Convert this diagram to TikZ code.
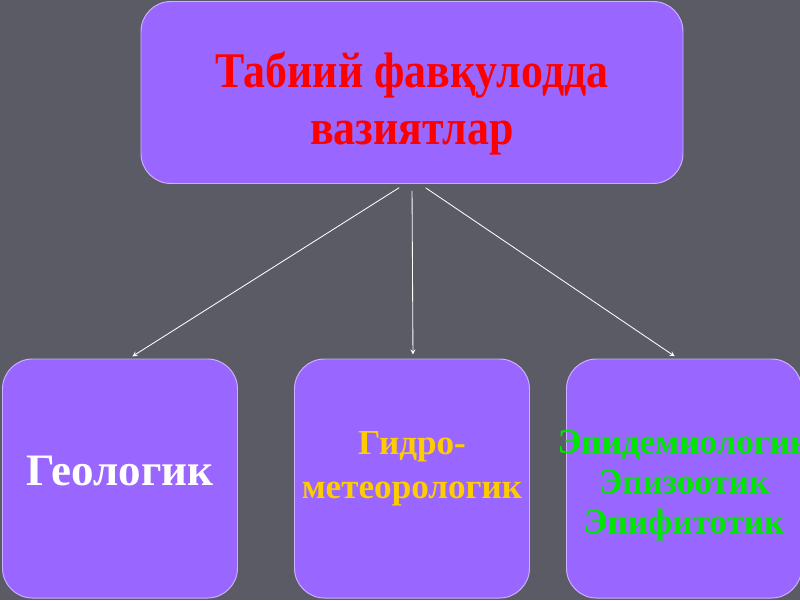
\documentclass[tikz,border=0pt]{standalone}
\usepackage{fontspec}
\setmainfont{Liberation Serif}
\newfontfamily\narrowfont[FakeStretch=0.88]{Liberation Serif}
\usepackage{tikz}
\usetikzlibrary{shapes.geometric, arrows}
\definecolor{slidebg}{RGB}{90,91,101}
\definecolor{boxfill}{RGB}{153,102,255}
\definecolor{boxedge}{RGB}{205,175,255}
\definecolor{goldtext}{RGB}{255,204,0}
\definecolor{greentext}{RGB}{0,230,0}
\tikzstyle{normal} = [rectangle, rounded corners=0.75cm, minimum width=5.875cm, minimum height=5.975cm, inner xsep=-0.3cm, align=center, draw=boxedge, line width=0.7pt, fill=boxfill]
\tikzstyle{title} = [normal, minimum width=13.55cm, minimum height=4.55cm]
\tikzstyle{arrow} = [white, line width=0.6pt, ->, >=stealth, shorten <=0.17cm, shorten >=0.1cm]

\begin{document}
\begin{tikzpicture}[node distance=9.65cm]

\fill[slidebg, use as bounding box] (-10.3,2.3125) rectangle (9.7,-12.6875);

%% NODES

% rules only nudge the text up or down inside its box
\node (top) [title, text=red, font=\narrowfont\bfseries\fontsize{35.5}{40}\selectfont] {\rule{0pt}{41pt}Табиий фавқулодда\\ вазиятлар};
\node (hydro) [normal, below of=top, text=goldtext, font=\bfseries\fontsize{25}{31}\selectfont] {Гидро-\\ метеорологик\rule[-19.6pt]{0pt}{19.6pt}};
\node (geo) [normal, left of=hydro, node distance=7.3cm, text=white, font=\bfseries\fontsize{32}{38}\selectfont] {Геологик\rule[-11.4pt]{0pt}{11.4pt}};
\node (epi) [normal, right of=hydro, node distance=6.8cm, text=greentext, font=\bfseries\fontsize{25}{28.5}\selectfont] {\rule{0pt}{27pt}Эпидемиологик\\ Эпизоотик\\ Эпифитотик};

%% ARROWS

\draw [arrow] ([xshift=-0.175cm]top.south) -- ([xshift=0.225cm]geo.north);
\draw [arrow] (top.south) -- ([xshift=0.025cm]hydro.north);
\draw [arrow] ([xshift=0.2cm]top.south) -- ([xshift=-0.15cm]epi.north);

\end{tikzpicture}
\end{document}
